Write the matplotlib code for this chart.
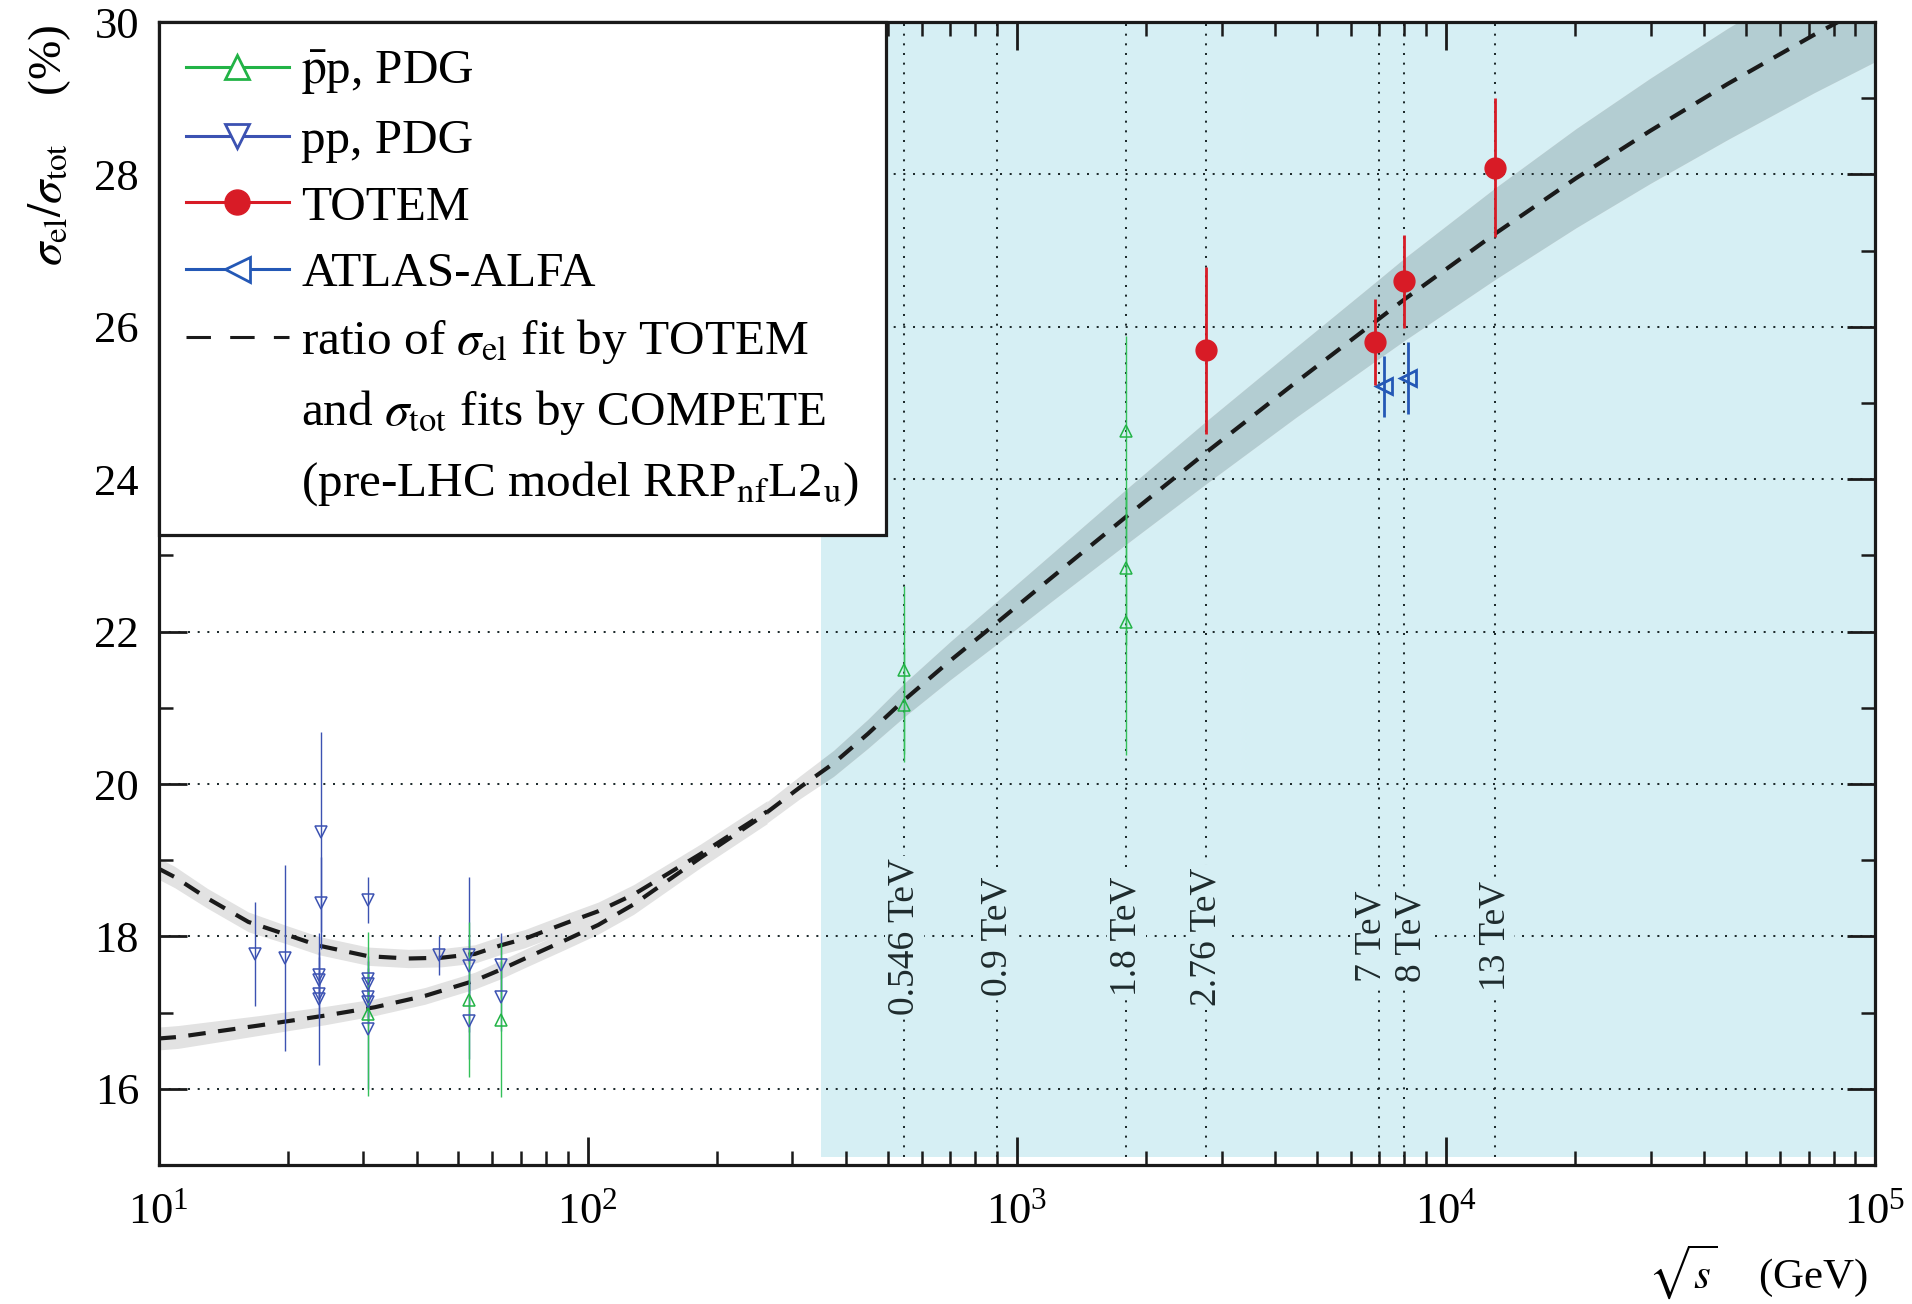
import matplotlib.pyplot as plt
from matplotlib.lines import Line2D
from matplotlib.patches import Rectangle
from matplotlib.ticker import LogLocator, MultipleLocator, NullFormatter

plt.rcParams['font.family'] = ['Liberation Serif', 'DejaVu Serif']
plt.rcParams['mathtext.fontset'] = 'stix'

# --- model curves (ratio in %) -------------------------------------------
# low-energy pp branch
pp_fit_x = [10, 10.9, 13, 16.2, 19.7, 23.6, 30.8, 38.2, 45.6, 54.6, 62.5,
            71.4, 89.5, 105.8, 128, 183, 262]
pp_fit_y = [18.89, 18.78, 18.50, 18.19, 18.03, 17.88, 17.74, 17.71, 17.72,
            17.77, 17.88, 17.97, 18.18, 18.33, 18.55, 19.08, 19.64]
pp_fit_err = [0.14, 0.14, 0.13, 0.13, 0.12, 0.12, 0.12, 0.12, 0.12, 0.12,
              0.12, 0.12, 0.12, 0.12, 0.13, 0.13, 0.14]

# low-energy pbar-p branch
pbp_fit_x = [10, 11.1, 17.1, 24.4, 31.9, 41.8, 54.6, 62.5, 71.4, 89.5,
             105.8, 128, 183, 262]
pbp_fit_y = [16.66, 16.68, 16.83, 16.96, 17.07, 17.22, 17.42, 17.56, 17.71,
             17.96, 18.15, 18.42, 19.03, 19.62]
pbp_fit_err = [0.15, 0.15, 0.13, 0.12, 0.11, 0.11, 0.11, 0.12, 0.12, 0.12,
               0.12, 0.13, 0.13, 0.14]

# common high-energy part
fit_x = [262, 313, 374, 450, 546, 700, 900, 1200, 1800, 2760, 4466, 7000,
         8000, 13000, 20090, 29880, 45400, 71940, 100000]
fit_y = [19.63, 19.96, 20.27, 20.66, 21.10, 21.62, 22.12, 22.70, 23.51,
         24.35, 25.27, 26.11, 26.36, 27.22, 27.95, 28.57, 29.19, 29.83, 30.26]
fit_err = [0.14, 0.15, 0.17, 0.19, 0.22, 0.25, 0.28, 0.31, 0.36, 0.41, 0.46,
           0.52, 0.54, 0.60, 0.65, 0.69, 0.73, 0.76, 0.78]

# --- measurements --------------------------------------------------------
pbp_x = [30.7, 53.0, 62.7, 546, 546, 1800, 1800, 1800]
pbp_y = [16.98, 17.17, 16.90, 21.50, 21.04, 24.63, 22.83, 22.13]
pbp_err = [1.08, 1.02, 1.01, 1.10, 0.75, 1.25, 1.00, 1.75]

pp_x = [16.8, 19.7, 23.9, 23.9, 23.7, 23.7, 23.7, 23.7, 30.7, 30.7, 30.7,
        30.7, 30.7, 30.7, 45.1, 53.0, 53.0, 53.0, 62.7, 62.7]
pp_y = [17.77, 17.72, 19.37, 18.44, 17.50, 17.43, 17.25, 17.18, 18.48, 17.44,
        17.38, 17.20, 17.14, 16.79, 17.75, 17.76, 17.61, 16.89, 17.62, 17.21]
pp_err = [0.68, 1.22, 1.31, 0.60, 0.30, 0.30, 0.30, 0.87, 0.30, 0.30, 0.30,
          0.30, 0.30, 0.79, 0.26, 1.02, 0.35, 0.50, 0.43, 0.45]

totem_x = [2760, 6850, 8000, 13000]
totem_y = [25.69, 25.80, 26.60, 28.09]
totem_err = [1.10, 0.56, 0.61, 0.91]

alfa_x = [7180, 8170]
alfa_y = [25.22, 25.33]
alfa_err = [0.40, 0.47]

energy_x = [546, 900, 1800, 2760, 7000, 8000, 13000]
energy_labels = ['0.546 TeV', '0.9 TeV', '1.8 TeV', '2.76 TeV', '7 TeV',
                 '8 TeV', '13 TeV']
label_shift = [0, 0, 0, 0, -6, 5, 0]

GREEN = '#22b346'
BLUE = '#3c52b2'
ALFA_BLUE = '#2458b6'
RED = '#d81b26'
CYAN = '#d6eff4'
BAND = '#e2e2e2'
BAND_LHC = '#b3cdd2'
INK = '#1e2b2d'
DOTS = (0, (1, 3.8))

fig = plt.figure(figsize=(19.12, 13.04), dpi=100)
ax = fig.add_axes([0.0829, 0.1066, 0.8978, 0.8765])
ax.set_xscale('log')
ax.set_xlim(10, 1e5)
ax.set_ylim(15, 30)
ax.set_axisbelow('line')

lhc = Rectangle((350, 15.11), 1e5 - 350, 30 - 15.11, facecolor=CYAN,
                edgecolor='none', zorder=0.2)
ax.add_patch(lhc)

# uncertainty bands
for xs, ys, es in [(pp_fit_x, pp_fit_y, pp_fit_err),
                   (pbp_fit_x, pbp_fit_y, pbp_fit_err),
                   (fit_x, fit_y, fit_err)]:
    lo = [y - e for y, e in zip(ys, es)]
    hi = [y + e for y, e in zip(ys, es)]
    ax.fill_between(xs, lo, hi, color=BAND, lw=0, zorder=1.0)
band = ax.fill_between(fit_x, [y - e for y, e in zip(fit_y, fit_err)],
                       [y + e for y, e in zip(fit_y, fit_err)],
                       color=BAND_LHC, lw=0, zorder=1.1)
band.set_clip_path(lhc)

# central curves
for xs, ys in [(pp_fit_x, pp_fit_y), (pbp_fit_x, pbp_fit_y), (fit_x, fit_y)]:
    ax.plot(xs, ys, color='#1a1a1a', lw=3, dashes=(4.2, 3.0), zorder=2)

# energy markers
ax.vlines(energy_x, 15.11, 30, colors=INK, linestyles=DOTS, lw=1.45,
          zorder=1.5)
for x, lab, dx in zip(energy_x, energy_labels, label_shift):
    ax.annotate(lab, xy=(x, 18), xytext=(dx, 0), textcoords='offset points',
                rotation=90, ha='center', va='center', fontsize=27,
                color=INK, zorder=2.5,
                bbox=dict(facecolor=CYAN, edgecolor='none', pad=1.5))

# data
ax.errorbar(pp_x, pp_y, yerr=pp_err, fmt='v', ms=8, mfc='none', mec=BLUE,
            mew=1.1, color=BLUE, elinewidth=1.0, capsize=0, zorder=3)
ax.errorbar(pbp_x, pbp_y, yerr=pbp_err, fmt='^', ms=8, mfc='none', mec=GREEN,
            mew=1.1, color=GREEN, ecolor='#33c05a', elinewidth=1.0,
            capsize=0, zorder=3)
ax.errorbar(alfa_x, alfa_y, yerr=alfa_err, fmt='<', ms=11, mfc='none',
            mec=ALFA_BLUE, mew=2, color=ALFA_BLUE, elinewidth=2.0, capsize=0,
            zorder=3)
ax.errorbar(totem_x, totem_y, yerr=totem_err, fmt='o', ms=15, color=RED,
            elinewidth=2.0, capsize=0, zorder=3.2)

# axes, ticks and grid
ax.yaxis.set_major_locator(MultipleLocator(2))
ax.yaxis.set_minor_locator(MultipleLocator(1))
ax.xaxis.set_major_locator(LogLocator(base=10))
ax.xaxis.set_minor_locator(LogLocator(base=10, subs=range(2, 10)))
ax.xaxis.set_minor_formatter(NullFormatter())
ax.yaxis.grid(True, which='major', linestyle=DOTS, color=INK, lw=1.45)

ax.tick_params(which='both', direction='in', top=True, right=True,
               color='#1a1a1a', labelsize=32)
ax.tick_params(which='major', length=20, width=2)
ax.tick_params(which='minor', length=10, width=1.8)
ax.tick_params(axis='y', pad=14)
ax.tick_params(axis='x', pad=20)
for sp in ax.spines.values():
    sp.set_linewidth(2.3)
    sp.set_color('#1a1a1a')

# legend
handles = [
    Line2D([], [], color=GREEN, lw=2.2, marker='^', ms=17, mfc='white',
           mec=GREEN, mew=2),
    Line2D([], [], color=BLUE, lw=2.2, marker='v', ms=17, mfc='white',
           mec=BLUE, mew=2),
    Line2D([], [], color=RED, lw=2.2, marker='o', ms=18, mfc=RED, mec=RED),
    Line2D([], [], color=ALFA_BLUE, lw=2.2, marker='<', ms=18, mfc='white',
           mec=ALFA_BLUE, mew=2),
    Line2D([], [], color='#1a1a1a', lw=2.2, dashes=(8, 6.3)),
    Line2D([], [], color='none'),
    Line2D([], [], color='none'),
]
labels = [
    r'$\bar{\mathrm{p}}$p, PDG',
    'pp, PDG',
    'TOTEM',
    'ATLAS-ALFA',
    r'ratio of $\sigma_{\mathrm{el}}$ fit by TOTEM',
    r'and $\sigma_{\mathrm{tot}}$ fits by COMPETE',
    r'(pre-LHC model RRP$_{\mathrm{nf}}$L2$_{\mathrm{u}}$)',
]
leg = ax.legend(handles, labels, loc='upper left', bbox_to_anchor=(0, 1),
                borderaxespad=0, fontsize=35.5, frameon=True, fancybox=False,
                edgecolor='#1a1a1a', framealpha=1, handlelength=2.1,
                handletextpad=0.25, borderpad=0.55, labelspacing=0.44)
leg.get_frame().set_linewidth(2.3)
leg.set_zorder(5)

fig.text(50 / 1912, 1 - 25 / 1304,
         r'$\sigma_{\mathrm{el}}/\sigma_{\mathrm{tot}}$    (%)',
         rotation=90, ha='center', va='top', fontsize=34)
fig.text(1868 / 1912, 1 - 1272 / 1304, r'$\sqrt{s}$    (GeV)',
         ha='right', va='center', fontsize=31)

fig.savefig('out.png', dpi=100)
